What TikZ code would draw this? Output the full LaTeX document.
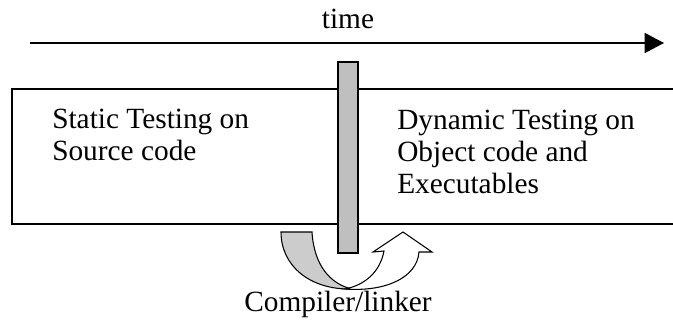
\documentclass[tikz,border=0pt]{standalone}
\usepackage{fontspec}
\setmainfont{Liberation Serif}
\usetikzlibrary{arrows.meta}

\begin{document}
\begin{tikzpicture}[x=0.75pt, y=-0.75pt,
		lbl/.style={font=\fontsize{22}{24}\selectfont, inner sep=0pt, align=left}]
		\useasboundingbox (0,0) rectangle (673,320);
		\coordinate (ts) at (30, 43);
		\coordinate (te) at (664, 43);
		\coordinate (boxtr) at (674, 89);
		\coordinate (boxbl) at (12, 224);
		\coordinate (boxbr) at (674, 224);

		\draw[line width=1.1pt, -{Triangle[length=14.5pt, width=15pt]}] (ts) -- (te);
		\node[lbl, anchor=base] (time) at (348, 29) {time};

		\draw[line width=1pt] (boxtr) -| (boxbl) -- (boxbr);
		\filldraw[fill=black!25, line width=1pt] (338, 62) rectangle (358, 253);

		\node[lbl, anchor=base west] (static) at (52, 161) {Static Testing on\\Source code};
		\node[lbl, anchor=base west] (dynamic) at (397, 194) {Dynamic Testing on\\Object code and\\Executables};

		% compiler step
		\filldraw[fill=black!20, line width=0.8pt] (281, 232) -- (312, 232)
			.. controls (314, 265) and (330, 284) .. (352, 289)
			.. controls (310, 290) and (281, 266) .. cycle;
		\filldraw[fill=white, line width=0.8pt] (345, 289)
			.. controls (385, 292) and (417, 278) .. (419, 252)
			-- (432, 252) -- (403, 232) -- (373, 252) -- (384, 251)
			.. controls (380, 272) and (365, 285) .. cycle;
		\node[lbl, anchor=base] (comp) at (338, 311) {Compiler/linker};
	\end{tikzpicture}
\end{document}
